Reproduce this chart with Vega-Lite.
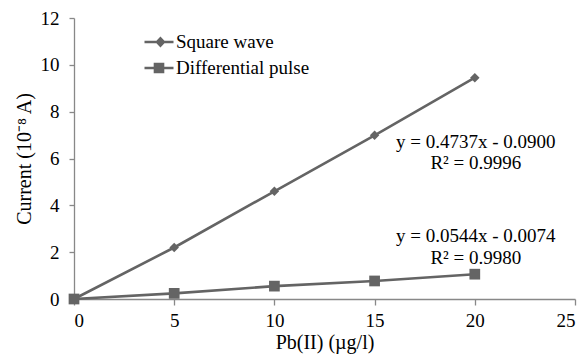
{
  "$schema": "https://vega.github.io/schema/vega-lite/v6.json",
  "autosize": {"type": "none"},
  "padding": {"left": 74, "top": 18, "right": 10, "bottom": 55},
  "width": 501,
  "height": 281,
  "background": "white",
  "config": {
    "view": {"stroke": null},
    "font": "Liberation Serif",
    "axis": {
      "labelFont": "Liberation Serif",
      "titleFont": "Liberation Serif",
      "labelFontSize": 19,
      "titleFontSize": 20,
      "labelColor": "#000000",
      "titleColor": "#000000",
      "titleFontWeight": "normal",
      "domainColor": "#888888",
      "tickColor": "#888888",
      "domainWidth": 1.3,
      "tickWidth": 1.3,
      "tickSize": 6,
      "grid": false
    }
  },
  "datasets": {
    "pts": [
      {"conc": 0, "current": 0, "series": "Square wave"},
      {"conc": 5, "current": 2.2, "series": "Square wave"},
      {"conc": 10, "current": 4.6, "series": "Square wave"},
      {"conc": 15, "current": 6.99, "series": "Square wave"},
      {"conc": 20, "current": 9.45, "series": "Square wave"},
      {"conc": 0, "current": 0, "series": "Differential pulse"},
      {"conc": 5, "current": 0.24, "series": "Differential pulse"},
      {"conc": 10, "current": 0.55, "series": "Differential pulse"},
      {"conc": 15, "current": 0.77, "series": "Differential pulse"},
      {"conc": 20, "current": 1.06, "series": "Differential pulse"}
    ],
    "notes": [
      {"x": 20.05, "y": 6.7, "label": "y = 0.4737x - 0.0900"},
      {"x": 20.05, "y": 5.79, "label": "R² = 0.9996"},
      {"x": 20.05, "y": 2.7, "label": "y = 0.0544x - 0.0074"},
      {"x": 20.05, "y": 1.77, "label": "R² = 0.9980"}
    ]
  },
  "layer": [
    {
      "data": {"name": "pts"},
      "mark": {"type": "line", "strokeWidth": 2.6, "color": "#646464"},
      "encoding": {
        "x": {
          "field": "conc", "type": "quantitative",
          "scale": {"domain": [0, 25], "nice": false},
          "axis": {"values": [0, 5, 10, 15, 20, 25], "title": "Pb(II) (µg/l)", "tickSize": 6, "labelPadding": 6, "titlePadding": 2}
        },
        "y": {
          "field": "current", "type": "quantitative",
          "scale": {"domain": [0, 12], "nice": false},
          "axis": {"values": [0, 2, 4, 6, 8, 10, 12], "title": "Current (10⁻⁸ A)", "tickSize": 5, "labelPadding": 10, "titlePadding": 6}
        },
        "detail": {"field": "series"}
      }
    },
    {
      "data": {"name": "pts"},
      "transform": [{"filter": "datum.series === 'Square wave'"}],
      "mark": {"type": "point", "filled": true, "opacity": 1, "color": "#646464", "size": 90, "shape": "diamond"},
      "encoding": {
        "x": {"field": "conc", "type": "quantitative"},
        "y": {"field": "current", "type": "quantitative"}
      }
    },
    {
      "data": {"name": "pts"},
      "transform": [{"filter": "datum.series === 'Differential pulse'"}],
      "mark": {"type": "point", "filled": true, "opacity": 1, "color": "#646464", "size": 115, "shape": "square"},
      "encoding": {
        "x": {"field": "conc", "type": "quantitative"},
        "y": {"field": "current", "type": "quantitative"}
      }
    },
    {
      "data": {"name": "pts"},
      "mark": {"type": "point", "filled": false, "opacity": 0, "color": "#646464", "strokeWidth": 2.5},
      "encoding": {
        "x": {"field": "conc", "type": "quantitative"},
        "y": {"field": "current", "type": "quantitative"},
        "shape": {
          "field": "series", "type": "nominal",
          "scale": {"domain": ["Square wave", "Differential pulse"], "range": ["M-1,0L1,0M0.1,-0.26L0.34,0L0.1,0.26L-0.14,0ZM0.1,-0.12L0.21,0L0.1,0.12L-0.01,0Z", "M-1,0L1,0M-0.28,-0.28L0.28,-0.28L0.28,0.28L-0.28,0.28ZM-0.13,-0.13L0.13,-0.13L0.13,0.13L-0.13,0.13Z"]},
          "legend": {
            "title": null,
            "orient": "none",
            "legendX": 69,
            "legendY": 11,
            "padding": 0,
            "labelFont": "Liberation Serif",
            "labelFontSize": 19,
            "labelColor": "#000000",
            "labelOffset": 1,
            "symbolSize": 841,
            "symbolStrokeWidth": 2.5,
            "symbolStrokeColor": "#646464",
            "symbolOpacity": 1,
            "rowPadding": 0,
            "clipHeight": 26
          }
        }
      }
    },
    {
      "data": {"name": "notes"},
      "mark": {"type": "text", "font": "Liberation Serif", "fontSize": 19, "color": "#000000", "align": "center", "baseline": "middle"},
      "encoding": {
        "x": {"field": "x", "type": "quantitative"},
        "y": {"field": "y", "type": "quantitative"},
        "text": {"field": "label"}
      }
    }
  ]
}
